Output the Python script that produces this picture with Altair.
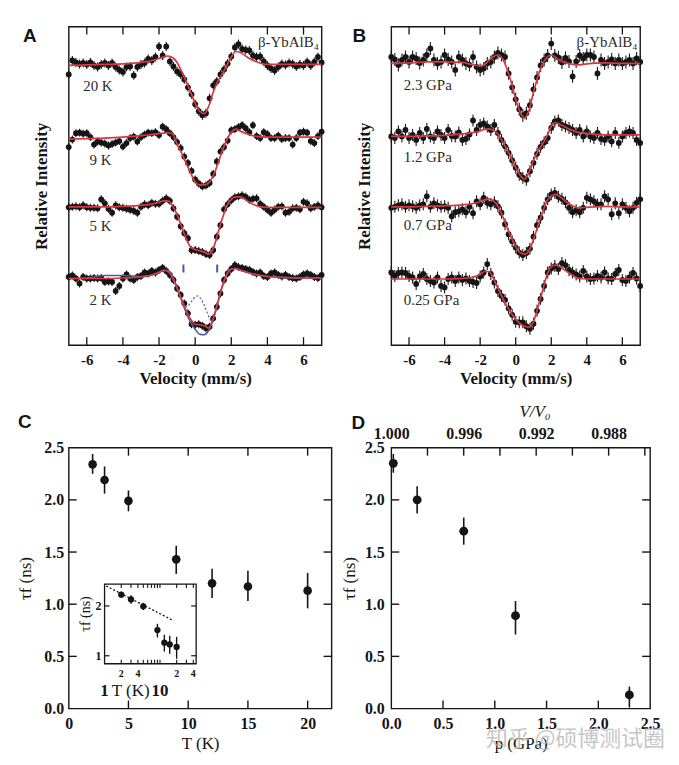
import altair as alt
import pandas as pd

SERIF = "Liberation Serif"
SANS = "Liberation Sans"
RED = "#d43a40"
BLUE = "#4b5b9e"
INK = "#151515"

# ---------------- Mossbauer spectra (panels A and B) ----------------
velocity = [-7.0, -6.8, -6.6, -6.4, -6.2, -6.0, -5.8, -5.6, -5.4, -5.2,
            -5.0, -4.8, -4.6, -4.4, -4.2, -4.0, -3.8, -3.6, -3.4, -3.2,
            -3.0, -2.8, -2.6, -2.4, -2.2, -2.0, -1.8, -1.6, -1.4, -1.2,
            -1.0, -0.8, -0.6, -0.4, -0.2, 0.0, 0.2, 0.4, 0.6, 0.8,
            1.0, 1.2, 1.4, 1.6, 1.8, 2.0, 2.2, 2.4, 2.6, 2.8,
            3.0, 3.2, 3.4, 3.6, 3.8, 4.0, 4.2, 4.4, 4.6, 4.8,
            5.0, 5.2, 5.4, 5.6, 5.8, 6.0, 6.2, 6.4, 6.6, 6.8, 7.0]
fit_velocity = [-7, -6, -5, -4, -3, -2.5, -2, -1.75, -1.5, -1.25, -1, -0.75, -0.5, -0.25,
                0, 0.25, 0.5, 0.75, 1, 1.25, 1.5, 1.75, 2, 2.25, 2.5, 3, 3.5, 4, 5, 6, 7]
vel_ticks = [-6, -4, -2, 0, 2, 4, 6]

# Panel A: temperature series (deviation from each baseline, stacked with offsets)
a_names = ["20 K", "9 K", "5 K", "2 K"]
a_baseline = [28.1, 20.8, 13.9, 6.7]
a_err = [0.45, 0.4, 0.4, 0.4]
a_label_v = [-6.2, -5.85, -5.85, -5.85]
a_label_y = [26.0, 18.6, 11.95, 4.5]

a_20K = [-0.9, 0.5, 0.3, 0.15, 0.25, 0.1, 0.3, 0.0, -0.15, 0.1,
         0.25, 0.0, 0.25, -0.15, -0.45, -0.65, -0.15, -0.1, -1.0, -0.15,
         0.1, 0.25, 0.65, 0.5, 0.85, 1.9, 1.0, 1.9, 0.4, -0.1,
         -0.6, -0.9, -1.4, -2.2, -2.9, -3.9, -4.6, -5.0, -4.8, -3.3,
         -2.0, -1.6, -0.9, -0.4, 0.2, 0.9, 1.8, 2.15, 1.65, 1.55,
         1.5, 1.0, 0.85, 0.9, 0.4, 0.0, -0.3, -0.5, -0.15, 0.15,
         0.05, 0.25, 0.15, -0.1, 0.1, 0.0, 0.35, 0.0, 0.35, 0.85, 0.3]
a_9K = [-0.9, -0.15, 0.5, 0.55, 0.45, 0.5, 0.1, -0.65, -0.35, -0.45,
        -0.55, -0.75, -0.6, -0.45, -0.3, -0.85, -0.5, 0.0, 0.15, -0.35,
        0.1, 0.35, 0.55, 0.5, 0.6, 0.3, 1.15, 0.9, 0.5, 0.1,
        -0.4, -1.0, -1.85, -2.5, -3.3, -4.15, -4.55, -4.85, -4.75, -4.5,
        -3.6, -2.35, -1.35, -0.9, -0.25, 0.8, 0.9, 1.1, 1.3, 1.0,
        0.6, 1.3, 0.2, 0.0, 0.6, 0.4, 0.0, 0.0, 0.25, -0.1,
        0.0, 0.0, -0.65, 0.0, 0.55, 0.65, 0.55, -0.3, -0.5, 0.2, 0.65]
a_5K = [-0.05, 0.0, 0.05, -0.05, 0.15, -0.05, -0.1, -0.1, -0.15, 0.75,
        0.35, -0.2, -0.6, 0.15, -0.05, -0.1, -0.2, -0.3, -0.4, -0.6,
        0.0, 0.25, 0.15, 0.4, 0.3, 0.3, 0.6, 0.85, 0.6, -0.15,
        -1.0, -1.95, -2.65, -3.15, -4.35, -4.35, -4.45, -4.55, -4.75, -4.85,
        -4.35, -3.0, -1.85, -0.25, 0.25, 0.65, 0.95, 1.05, 1.15, 1.0,
        0.7, 0.8, 0.85, 0.3, 0.0, -0.3, -0.6, -0.3, 0.0, 0.05,
        -0.6, -0.5, -0.15, -0.1, -0.25, 0.5, 0.35, -0.15, 0.0, 0.15, -0.05]
a_2K = [0.15, 0.3, 0.0, -0.5, 0.15, 0.0, 0.0, 0.05, 0.0, 0.05,
        -0.35, -0.3, -0.35, -1.25, -0.75, 0.0, 0.4, 0.0, -0.15, 0.15,
        0.25, 0.6, 0.5, 0.75, 0.6, 0.85, 1.05, 0.75, 0.35, -0.15,
        -1.0, -1.65, -2.5, -3.5, -4.6, -4.65, -4.6, -4.75, -5.0, -4.85,
        -4.0, -2.85, -1.5, -0.15, 0.5, 0.95, 1.35, 1.15, 1.05, 0.95,
        0.85, 0.65, 0.5, 0.6, 0.25, 0.15, 0.5, 0.6, 0.35, 0.2,
        0.35, 0.15, 0.05, 0.0, 0.15, 0.4, 0.5, 0.35, 0.15, 0.05, 0.35]

a_fit_20K = [0.0, 0.05, 0.1, 0.15, 0.3, 0.45, 0.7, 0.85, 0.95, 0.8, 0.3, -0.6, -1.6, -2.7,
             -3.8, -4.6, -4.85, -4.1, -2.7, -1.6, -0.85, 0.0, 0.85, 1.4, 1.3, 0.7, 0.3, 0.1, 0.1, 0.1, 0.1]
a_fit_9K = [-0.1, -0.05, 0.0, 0.1, 0.25, 0.35, 0.45, 0.5, 0.55, 0.4, -0.6, -1.5, -2.5, -3.5,
            -4.4, -4.7, -4.7, -4.5, -3.8, -2.6, -1.3, -0.2, 0.6, 0.9, 0.7, 0.35, 0.15, 0.1, 0.1, 0.1, 0.1]
a_fit_5K = [0.0, 0.0, 0.0, 0.05, 0.15, 0.25, 0.45, 0.6, 0.6, 0.1, -0.8, -2.0, -3.2, -4.05,
            -4.3, -4.4, -4.55, -4.75, -4.2, -2.7, -1.2, 0.1, 0.75, 1.0, 1.0, 0.45, 0.05, -0.05, -0.05, -0.05, -0.05]
a_fit_2K = [0.0, 0.0, 0.0, 0.05, 0.15, 0.3, 0.6, 0.8, 0.7, 0.05, -1.0, -2.1, -3.2, -4.1,
            -4.6, -4.65, -4.75, -4.95, -4.0, -2.4, -0.8, 0.4, 0.95, 1.0, 0.85, 0.55, 0.35, 0.2, 0.1, 0.05, 0.05]
# single-site model at 2 K (solid blue) and second component (dashed blue)
a_blue_2K = [0.0, 0.05, 0.3, 0.3, 0.2, 0.3, 0.65, 0.85, 0.8, 0.15, -0.9, -2.2, -3.4, -4.4,
             -5.1, -5.6, -5.65, -5.2, -4.1, -2.5, -0.8, 0.4, 0.95, 1.0, 0.85, 0.55, 0.35, 0.2, 0.1, 0.05, 0.05]
a_dash_v = [-0.55, -0.4, -0.2, 0.0, 0.15, 0.3, 0.5, 0.7, 0.85, 0.95]
a_dash_2K = [-2.9, -2.75, -2.3, -1.85, -1.75, -2.0, -2.7, -3.6, -4.2, -4.5]
a_marker_v = [-0.65, 1.22]
a_marker_lo = [0.6, 0.6]
a_marker_hi = [1.4, 1.4]

# Panel B: pressure series
b_names = ["2.3 GPa", "1.2 GPa", "0.7 GPa", "0.25 GPa"]
b_baseline = [28.3, 20.97, 13.9, 6.7]
b_err = [0.65, 0.6, 0.6, 0.6]
b_label_v = [-6.3, -6.3, -6.3, -6.3]
b_label_y = [26.1, 18.9, 12.1, 4.5]

b_23 = [0.65, 0.4, -0.15, 0.35, 0.65, 0.15, 0.65, 0.5, 0.05, 0.35,
        0.85, 1.5, 0.35, 0.0, 0.15, 0.85, 0.4, 0.15, -0.65, 0.65,
        0.35, 0.0, -0.15, 0.65, -0.35, -0.65, -0.5, 0.0, 0.15, 0.65,
        1.05, 0.85, 0.65, -1.0, -2.4, -3.6, -4.6, -5.2, -5.0, -4.2,
        -2.6, -1.4, -0.2, 0.35, 0.8, 2.0, 0.8, 0.6, 0.1, 0.55,
        0.2, -1.3, 0.2, 0.8, 0.5, 0.85, 0.85, 0.65, -1.0, 0.35,
        0.0, 0.15, 0.4, 0.0, 0.35, 0.0, 0.15, 0.35, 0.0, 0.5, 0.15]
b_12 = [0.0, -0.15, 0.5, 0.0, 0.65, -0.15, 0.15, -0.35, 0.35, -0.15,
        0.75, 0.0, -0.15, 0.5, 0.15, -0.15, 0.65, 0.05, 0.0, 0.4,
        -0.35, -0.25, 0.2, 1.6, 0.65, 1.15, 1.3, 1.0, 0.65, 1.15,
        0.35, -0.35, -1.0, -1.65, -2.4, -3.15, -3.85, -4.15, -4.35, -3.5,
        -2.65, -1.75, -1.05, -0.6, -0.15, 0.85, 1.5, 1.6, 1.15, 1.0,
        0.85, 0.65, 0.35, 0.65, 0.0, 0.5, 0.0, -0.15, 0.35, -0.25,
        -0.35, 0.0, -0.5, 0.35, -0.65, 0.0, 0.35, 0.5, 0.35, -0.35, -0.65]
b_07 = [-0.1, 0.0, 0.15, 0.25, 0.0, 0.15, 0.05, -0.1, 0.15, 0.25,
        1.05, 0.0, 0.35, 0.15, 0.0, 0.05, -0.1, -0.95, -0.55, -0.45,
        -0.25, -0.55, 0.0, -0.65, 0.55, 0.25, 0.9, 0.4, 0.25, 0.45,
        0.05, -0.6, -1.75, -2.75, -3.45, -4.1, -4.6, -4.85, -4.65, -4.2,
        -3.0, -1.85, -1.1, -0.1, 0.75, 1.25, 1.4, 1.0, 0.8, 0.45,
        -0.1, -0.55, -0.35, -0.55, -0.1, 0.9, 0.75, 0.55, 0.25, 0.25,
        1.05, 0.75, -0.75, 0.35, -0.65, 0.25, -0.1, -0.45, -0.1, 0.4, 0.75]
b_025 = [0.6, 0.25, 0.55, 0.6, 0.55, 0.25, 0.1, -0.55, 0.2, 0.45,
         -0.05, -0.25, -0.4, 0.1, -0.75, -0.9, -0.05, 0.1, -0.25, 0.1,
         -0.15, 0.0, -0.25, -0.35, -0.45, 0.2, 0.6, 1.45, 0.45, -0.4,
         -1.25, -1.75, -2.15, -3.0, -3.65, -4.35, -4.4, -4.4, -4.8, -5.05,
         -4.55, -3.25, -2.05, -0.75, 0.6, 1.0, 1.25, 0.95, 1.55, 1.35,
         0.85, 0.6, 0.4, 0.2, 0.75, 0.2, -0.05, 0.0, 0.25, 0.1,
         0.6, 0.0, -0.05, 0.45, 0.85, -0.15, -0.25, 0.1, 0.55, 0.0, -0.75]

b_fit_23 = [0.0, 0.05, 0.15, 0.15, 0.1, -0.1, -0.25, -0.1, 0.3, 0.7, 0.85, 0.5, -0.5, -1.9,
            -3.6, -4.9, -5.5, -4.7, -2.9, -1.3, -0.1, 0.6, 0.85, 0.6, 0.3, 0.0, -0.15, -0.05, 0.05, 0.0, 0.0]
b_fit_12 = [0.0, 0.0, 0.05, 0.1, 0.25, 0.35, 0.55, 0.7, 0.75, 0.6, 0.25, -0.5, -1.3, -2.2,
            -3.1, -3.9, -4.3, -3.6, -2.4, -1.5, -0.8, 0.0, 1.0, 1.4, 1.2, 0.75, 0.4, 0.3, 0.15, 0.15, 0.15]
b_fit_07 = [0.0, 0.0, 0.05, 0.1, 0.2, 0.3, 0.5, 0.7, 0.8, 0.6, 0.05, -0.9, -2.0, -3.1,
            -4.0, -4.6, -4.75, -4.4, -3.3, -1.9, -0.6, 0.55, 1.1, 1.25, 1.0, 0.3, -0.1, -0.05, 0.05, 0.0, 0.0]
b_fit_025 = [-0.05, -0.05, -0.05, -0.05, 0.0, 0.1, 0.4, 0.7, 0.7, 0.0, -1.0, -1.9, -2.75, -3.5,
             -4.1, -4.55, -4.8, -4.9, -4.3, -2.9, -1.3, 0.3, 1.2, 1.35, 1.15, 0.55, 0.05, -0.05, -0.05, -0.05, -0.05]

compound = "\u03b2-YbAlB\u2084"

# ---------------- Panel C: tau_f vs T ----------------
T_K = [2, 3, 5, 9, 12, 15, 20]
tau_T = [2.34, 2.19, 1.99, 1.43, 1.20, 1.17, 1.13]
tau_T_low = [2.25, 2.06, 1.89, 1.29, 1.06, 1.03, 0.96]
tau_T_high = [2.44, 2.32, 2.09, 1.56, 1.34, 1.32, 1.30]
inset_fit_T = [1.07, 16.3]
inset_fit_tau = [2.64, 1.65]

# ---------------- Panel D: tau_f vs p ----------------
p_GPa = [0.02, 0.25, 0.7, 1.2, 2.3]
tau_p = [2.35, 2.00, 1.70, 0.89, 0.13]
tau_p_low = [2.26, 1.87, 1.57, 0.71, 0.01]
tau_p_high = [2.44, 2.13, 1.83, 1.03, 0.21]
vv0_labels = [1.000, 0.996, 0.992, 0.988]
vv0_ticks = [0.998, 0.996, 0.994, 0.992, 0.990, 0.988, 0.986]
vv0_domain = [1.0, 0.98571]


def spectra_frames(names, baselines, devs, errs, fits):
    rows, frows = [], []
    for name, base, dev, err, fit in zip(names, baselines, devs, errs, fits):
        assert len(dev) == len(velocity), (name, len(dev))
        assert len(fit) == len(fit_velocity), (name, len(fit))
        for v, d in zip(velocity, dev):
            rows.append({"name": name, "v": v, "y": base + d, "lo": base + d - err, "hi": base + d + err})
        for v, f in zip(fit_velocity, fit):
            frows.append({"name": name, "v": v, "y": base + f})
    return pd.DataFrame(rows), pd.DataFrame(frows)


def letter_layer(letter, x, y):
    return alt.Chart(pd.DataFrame({"t": [letter]})).mark_text(
        align="left", baseline="top", font=SANS, fontWeight="bold", fontSize=19, color=INK
    ).encode(x=alt.value(x), y=alt.value(y), text="t:N")


SPEC_W_A, SPEC_W_B, SPEC_H = 254, 250, 320


def spectrum_panel(pts, fits, names, label_v, label_y, letter, letter_x, width, extra=()):
    xs = alt.Scale(domain=[-7, 7], nice=False, zero=False)
    ys = alt.Scale(domain=[0, 32], nice=False, zero=False)
    xaxis = alt.Axis(values=vel_ticks, labelExpr="toString(datum.value)", ticks=False, tickSize=0,
                     domain=False, grid=False, labelFlush=False, labelFont=SERIF, labelFontWeight="bold",
                     labelFontSize=15, labelColor=INK, labelPadding=7, title="Velocity (mm/s)",
                     titleFont=SERIF, titleFontWeight="bold", titleFontSize=17, titleColor=INK,
                     titlePadding=4)
    yaxis = alt.Axis(labels=False, ticks=False, domain=False, grid=False, title="Relative Intensity",
                     titleFont=SERIF, titleFontWeight="bold", titleFontSize=17, titleColor=INK,
                     titlePadding=18)

    def X(f):
        return alt.X(f + ":Q", scale=xs, axis=xaxis)

    def Y(f):
        return alt.Y(f + ":Q", scale=ys, axis=yaxis)

    err = alt.Chart(pts).mark_rule(color=INK, strokeWidth=1.1).encode(x=X("v"), y=Y("lo"), y2="hi:Q")
    dots = alt.Chart(pts).mark_circle(color=INK, opacity=1, size=34).encode(x=X("v"), y=Y("y"))
    fit = alt.Chart(fits).mark_line(color=RED, strokeWidth=1.7, interpolate="monotone").encode(
        x=X("v"), y=Y("y"), detail="name:N")
    lab_df = pd.DataFrame({"t": names, "v": label_v, "y": label_y})
    labels = alt.Chart(lab_df).mark_text(align="left", baseline="middle", font=SERIF, fontSize=15,
                                         color="#2a2a2a").encode(x=X("v"), y=Y("y"), text="t:N")
    comp = alt.Chart(pd.DataFrame({"t": [compound], "v": [6.85], "y": [30.5]})).mark_text(
        align="right", baseline="middle", font=SERIF, fontSize=15, color="#2a2a2a").encode(
        x=X("v"), y=Y("y"), text="t:N")
    tdf = pd.DataFrame({"v": vel_ticks})
    tb = alt.Chart(tdf).mark_rule(color=INK, strokeWidth=1.3).encode(
        x=X("v"), y=alt.value(SPEC_H), y2=alt.value(SPEC_H - 8))
    tt = alt.Chart(tdf).mark_rule(color=INK, strokeWidth=1.3).encode(
        x=X("v"), y=alt.value(0), y2=alt.value(8))
    layers = [err, dots] + [e(X, Y) for e in extra] + [fit, labels, comp, tb, tt,
                                                         letter_layer(letter, letter_x, 0)]
    return alt.layer(*layers).properties(width=width, height=SPEC_H)


# ---- Panel A
a_pts, a_fits = spectra_frames(a_names, a_baseline, [a_20K, a_9K, a_5K, a_2K], a_err,
                               [a_fit_20K, a_fit_9K, a_fit_5K, a_fit_2K])
base2K = a_baseline[3]
blue_df = pd.DataFrame({"v": fit_velocity, "y": [base2K + b for b in a_blue_2K]})
dash_df = pd.DataFrame({"v": a_dash_v, "y": [base2K + d for d in a_dash_2K]})
marker_df = pd.DataFrame({"v": a_marker_v, "lo": [base2K + d for d in a_marker_lo],
                          "hi": [base2K + d for d in a_marker_hi]})


def blue_solid(X, Y):
    return alt.Chart(blue_df).mark_line(color=BLUE, strokeWidth=1.6, interpolate="monotone").encode(
        x=X("v"), y=Y("y"))


def blue_dash(X, Y):
    return alt.Chart(dash_df).mark_line(color=BLUE, strokeWidth=1.2, strokeDash=[2, 2],
                                        interpolate="monotone").encode(x=X("v"), y=Y("y"))


def blue_marks(X, Y):
    return alt.Chart(marker_df).mark_rule(color=BLUE, strokeWidth=2).encode(
        x=X("v"), y=Y("lo"), y2="hi:Q")


panel_a = spectrum_panel(a_pts, a_fits, a_names, a_label_v, a_label_y, "A", -46, SPEC_W_A,
                         extra=(blue_solid, blue_dash, blue_marks))

# ---- Panel B
b_pts, b_fits = spectra_frames(b_names, b_baseline, [b_23, b_12, b_07, b_025], b_err,
                               [b_fit_23, b_fit_12, b_fit_07, b_fit_025])
panel_b = spectrum_panel(b_pts, b_fits, b_names, b_label_v, b_label_y, "B", -39, SPEC_W_B)

# ---------------- Panel C ----------------
C_W, C_H = 264, 262
c_df = pd.DataFrame({"T": T_K, "tau": tau_T, "lo": tau_T_low, "hi": tau_T_high})
c_xs = alt.Scale(domain=[0, 22], nice=False, zero=False)
c_ys = alt.Scale(domain=[0, 2.5], nice=False, zero=False)
lab_common = dict(ticks=False, tickSize=0, domain=False, grid=False, labelFlush=False,
                  labelFont=SERIF, labelFontWeight="bold", labelFontSize=16, labelColor=INK,
                  titleFont=SERIF, titleFontSize=17, titleFontWeight="normal", titleColor=INK)
c_xaxis = alt.Axis(values=[0, 5, 10, 15, 20], format="d", labelPadding=7, title="T (K)",
                   titlePadding=4, **lab_common)
c_yaxis = alt.Axis(values=[0, 0.5, 1.0, 1.5, 2.0, 2.5], format=".1f", labelPadding=5,
                   title="\u03c4f (ns)", titlePadding=9, **lab_common)


def CX(f):
    return alt.X(f + ":Q", scale=c_xs, axis=c_xaxis)


def CY(f):
    return alt.Y(f + ":Q", scale=c_ys, axis=c_yaxis)


c_err = alt.Chart(c_df).mark_rule(color=INK, strokeWidth=1.6).encode(x=CX("T"), y=CY("lo"), y2="hi:Q")
c_dots = alt.Chart(c_df).mark_circle(color=INK, opacity=1, size=75).encode(x=CX("T"), y=CY("tau"))
cxt = pd.DataFrame({"T": [5, 10, 15, 20]})
cyt = pd.DataFrame({"tau": [0.5, 1.0, 1.5, 2.0]})
c_tb = alt.Chart(cxt).mark_rule(color=INK, strokeWidth=1.4).encode(x=CX("T"), y=alt.value(C_H), y2=alt.value(C_H - 8))
c_tt = alt.Chart(cxt).mark_rule(color=INK, strokeWidth=1.4).encode(x=CX("T"), y=alt.value(0), y2=alt.value(8))
c_tl = alt.Chart(cyt).mark_rule(color=INK, strokeWidth=1.4).encode(y=CY("tau"), x=alt.value(0), x2=alt.value(8))
c_tr = alt.Chart(cyt).mark_rule(color=INK, strokeWidth=1.4).encode(y=CY("tau"), x=alt.value(C_W), x2=alt.value(C_W - 8))
c_main = alt.layer(c_err, c_dots, c_tb, c_tt, c_tl, c_tr, letter_layer("C", -51, -35))

# inset (log-log)
in_xs = alt.Scale(type="log", domain=[1, 45], range=[36, 128], nice=False)
in_ys = alt.Scale(type="log", domain=[0.895, 2.71], range=[217, 137], nice=False)


def IX(f):
    return alt.X(f + ":Q", scale=in_xs, axis=None)


def IY(f):
    return alt.Y(f + ":Q", scale=in_ys, axis=None)


frame_df = pd.DataFrame({"x0": [1], "x1": [45], "y0": [0.895], "y1": [2.71]})
in_frame = alt.Chart(frame_df).mark_rect(fill="white", stroke=INK, strokeWidth=1.3).encode(
    x=IX("x0"), x2="x1:Q", y=IY("y0"), y2="y1:Q")
in_fit = alt.Chart(pd.DataFrame({"T": inset_fit_T, "tau": inset_fit_tau})).mark_line(
    color=INK, strokeWidth=1.3, strokeDash=[2, 2]).encode(x=IX("T"), y=IY("tau"))
in_err = alt.Chart(c_df).mark_rule(color=INK, strokeWidth=1.4).encode(x=IX("T"), y=IY("lo"), y2="hi:Q")
in_dots = alt.Chart(c_df).mark_circle(color=INK, opacity=1, size=40).encode(x=IX("T"), y=IY("tau"))
in_xt = pd.DataFrame({"T": [2, 3, 4, 5, 6, 7, 8, 9, 10, 20, 30, 40], "yb": [0.895] * 12, "yt": [2.71] * 12})
in_yt = pd.DataFrame({"tau": [1, 2], "xl": [1, 1], "xr": [45, 45]})
in_tb = alt.Chart(in_xt).mark_rule(color=INK, strokeWidth=1.1, y2Offset=-4).encode(x=IX("T"), y=IY("yb"), y2="yb:Q")
in_tt = alt.Chart(in_xt).mark_rule(color=INK, strokeWidth=1.1, y2Offset=4).encode(x=IX("T"), y=IY("yt"), y2="yt:Q")
in_tl = alt.Chart(in_yt).mark_rule(color=INK, strokeWidth=1.2, x2Offset=5).encode(y=IY("tau"), x=IX("xl"), x2="xl:Q")
in_tr = alt.Chart(in_yt).mark_rule(color=INK, strokeWidth=1.2, x2Offset=-5).encode(y=IY("tau"), x=IX("xr"), x2="xr:Q")
in_xlab = alt.Chart(pd.DataFrame({"t": ["2", "4", "2", "4"], "T": [2, 4, 20, 40], "yb": [0.895] * 4})).mark_text(
    font=SERIF, fontWeight="bold", fontSize=10, color=INK, baseline="middle", dy=10).encode(
    x=IX("T"), y=IY("yb"), text="t:N")
in_big = alt.Chart(pd.DataFrame({"t": ["1", "10"], "T": [1, 10], "yb": [0.895] * 2})).mark_text(
    font=SERIF, fontWeight="bold", fontSize=17, color=INK, baseline="middle", dy=27).encode(
    x=IX("T"), y=IY("yb"), text="t:N")
in_title = alt.Chart(pd.DataFrame({"t": ["T (K)"], "T": [2.96], "yb": [0.895]})).mark_text(
    font=SERIF, fontSize=17, color=INK, baseline="middle", dy=27).encode(
    x=IX("T"), y=IY("yb"), text="t:N")
in_ylab = alt.Chart(pd.DataFrame({"t": ["2", "1"], "tau": [2, 1], "xl": [1, 1]})).mark_text(
    font=SERIF, fontWeight="bold", fontSize=12, color=INK, align="right", baseline="middle", dx=-3).encode(
    x=IX("xl"), y=IY("tau"), text="t:N")
in_ytitle = alt.Chart(pd.DataFrame({"t": ["\u03c4f (ns)"]})).mark_text(
    font=SERIF, fontSize=14, color=INK, angle=270, align="center", baseline="middle").encode(
    x=alt.value(17), y=alt.value(167), text="t:N")
c_inset = alt.layer(in_frame, in_fit, in_err, in_dots, in_tb, in_tt, in_tl, in_tr,
                    in_xlab, in_big, in_title, in_ylab, in_ytitle)

panel_c = alt.layer(c_main, c_inset).resolve_scale(x="independent", y="independent").properties(
    width=C_W, height=C_H)

# ---------------- Panel D ----------------
D_W, D_H = 260, 262
d_df = pd.DataFrame({"p": p_GPa, "tau": tau_p, "lo": tau_p_low, "hi": tau_p_high})
d_xs = alt.Scale(domain=[0, 2.5], nice=False, zero=False)
d_ys = alt.Scale(domain=[0, 2.5], nice=False, zero=False)
d_xaxis = alt.Axis(values=[0, 0.5, 1.0, 1.5, 2.0, 2.5], format=".1f", labelPadding=7, title="p (GPa)",
                   titlePadding=4, **lab_common)
d_yaxis = alt.Axis(values=[0, 0.5, 1.0, 1.5, 2.0, 2.5], format=".1f", labelPadding=7,
                   title="\u03c4f (ns)", titlePadding=6, **lab_common)


def DX(f):
    return alt.X(f + ":Q", scale=d_xs, axis=d_xaxis)


def DY(f):
    return alt.Y(f + ":Q", scale=d_ys, axis=d_yaxis)


d_err = alt.Chart(d_df).mark_rule(color=INK, strokeWidth=1.6).encode(x=DX("p"), y=DY("lo"), y2="hi:Q")
d_dots = alt.Chart(d_df).mark_circle(color=INK, opacity=1, size=80).encode(x=DX("p"), y=DY("tau"))
dxt = pd.DataFrame({"p": [0.5, 1.0, 1.5, 2.0]})
dyt = pd.DataFrame({"tau": [0.5, 1.0, 1.5, 2.0]})
d_tb = alt.Chart(dxt).mark_rule(color=INK, strokeWidth=1.4).encode(x=DX("p"), y=alt.value(D_H), y2=alt.value(D_H - 8))
d_tl = alt.Chart(dyt).mark_rule(color=INK, strokeWidth=1.4).encode(y=DY("tau"), x=alt.value(0), x2=alt.value(8))
d_tr = alt.Chart(dyt).mark_rule(color=INK, strokeWidth=1.4).encode(y=DY("tau"), x=alt.value(D_W), x2=alt.value(D_W - 8))
watermark = alt.Chart(pd.DataFrame({"t": ["\u77e5\u4e4e @\u7855\u535a\u6d4b\u8bd5\u5708"]})).mark_text(
    font="Noto Sans CJK SC", fontSize=22, color="#b8b8b8", opacity=0.8, align="center",
    baseline="middle").encode(x=alt.value(185), y=alt.value(293), text="t:N")
d_main = alt.layer(d_err, d_dots, d_tb, d_tl, d_tr, letter_layer("D", -40, -34), watermark)

vv_axis = alt.Axis(orient="top", values=vv0_labels, format=".3f", labelPadding=6,
                   title="V/V\u2080", titlePadding=5, titleFontStyle="italic", titleX=144,
                   **lab_common)
d_top = alt.Chart(pd.DataFrame({"vv": vv0_ticks})).mark_rule(color=INK, strokeWidth=1.4).encode(
    x=alt.X("vv:Q", scale=alt.Scale(domain=vv0_domain, nice=False, zero=False), axis=vv_axis),
    y=alt.value(0), y2=alt.value(8))

panel_d = alt.layer(d_main, d_top).resolve_scale(x="independent").properties(width=D_W, height=D_H)

# ---------------- assemble ----------------
chart = alt.concat(panel_a, panel_b, panel_c, panel_d, columns=2,
                   spacing=alt.RowColnumber(row=103, column=60),
                   bounds="flush", align="each").properties(
    padding={"left": 8, "top": 15, "right": 5, "bottom": 5}
).configure_view(stroke=INK, strokeWidth=1.4).configure_axis(grid=False)

chart.save("out.html", embed_options={"renderer": "svg", "actions": False})
